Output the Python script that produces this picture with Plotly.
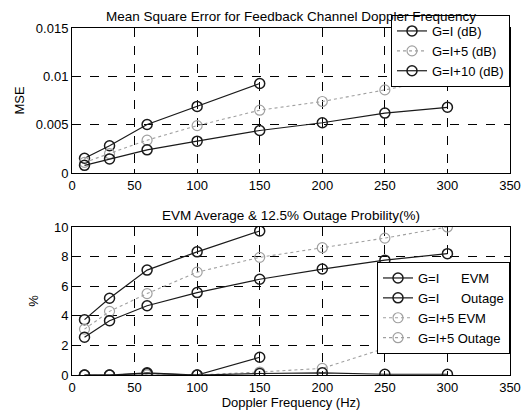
import plotly.graph_objects as go
from plotly.subplots import make_subplots

doppler = [10, 30, 60, 100, 150, 200, 250, 300]
doppler_short = [10, 30, 60, 100, 150]

mse_g0 = [0.00153, 0.00282, 0.00502, 0.00689, 0.00926]
mse_g5 = [0.0011, 0.0020, 0.0034, 0.0049, 0.0065, 0.0074, 0.0086, 0.0099]
mse_g10 = [0.0008, 0.00146, 0.0024, 0.0033, 0.0044, 0.0052, 0.0062, 0.0068]

evm_g0 = [3.74, 5.19, 7.09, 8.32, 9.73]
out_g0 = [0.0, 0.0, 0.15, 0.0, 1.2]
evm_g5 = [3.1, 4.3, 5.5, 6.95, 7.95, 8.6, 9.25, 10.0]
out_g5 = [0.0, 0.0, 0.0, 0.0, 0.2, 0.45, 1.8, 2.8]
evm_g10 = [2.55, 3.67, 4.68, 5.57, 6.47, 7.16, 7.76, 8.2]
out_g10 = [0.0, 0.0, 0.1, 0.0, 0.1, 0.15, 0.05, 0.05]

x_ticks = [0, 50, 100, 150, 200, 250, 300, 350]
mse_ticks = [0, 0.005, 0.01, 0.015]
mse_ticktext = ["0", "0.005", "0.01", "0.015"]
pct_ticks = [0, 2, 4, 6, 8, 10]

BLACK = "#1a1a1a"
GRAY = "#a0a0a0"
FONT = "Liberation Sans, Arial, sans-serif"

fig = make_subplots(rows=2, cols=1, vertical_spacing=0.1)

def solid(x, y, name, legend, show=True):
    return go.Scatter(x=x, y=y, name=name, mode="lines+markers",
                      line=dict(color=BLACK, width=1.2),
                      marker=dict(symbol="circle-open", size=10, color=BLACK, line=dict(width=1.5)),
                      legend=legend, showlegend=show)

def dotted(x, y, name, legend, show=True):
    return go.Scatter(x=x, y=y, name=name, mode="lines+markers",
                      line=dict(color=GRAY, width=1.1, dash="dot"),
                      marker=dict(symbol="circle-open", size=10, color=GRAY, line=dict(width=1.2)),
                      legend=legend, showlegend=show)

fig.add_trace(solid(doppler_short, mse_g0, "G=I (dB)", "legend"), row=1, col=1)
fig.add_trace(dotted(doppler, mse_g5, "G=I+5 (dB)", "legend"), row=1, col=1)
fig.add_trace(solid(doppler, mse_g10, "G=I+10 (dB)", "legend"), row=1, col=1)

nb = "\u00a0"
fig.add_trace(solid(doppler_short, evm_g0, "G=I" + nb * 6 + "EVM", "legend2"), row=2, col=1)
fig.add_trace(solid(doppler_short, out_g0, "G=I" + nb * 6 + "Outage", "legend2"), row=2, col=1)
fig.add_trace(dotted(doppler, evm_g5, "G=I+5 EVM", "legend2"), row=2, col=1)
fig.add_trace(dotted(doppler, out_g5, "G=I+5 Outage", "legend2"), row=2, col=1)
fig.add_trace(solid(doppler, evm_g10, "G=I+10 EVM", "legend2", show=False), row=2, col=1)
fig.add_trace(solid(doppler, out_g10, "G=I+10 Outage", "legend2", show=False), row=2, col=1)

axis_common = dict(showline=True, mirror=True, linecolor="black", linewidth=1,
                   showgrid=True, gridcolor="black", griddash="dash", gridwidth=1,
                   ticks="inside", ticklen=4, tickcolor="black", zeroline=False,
                   automargin=False,
                   tickfont=dict(size=13, color="black", family=FONT))

fig.update_xaxes(range=[0, 350], tickvals=x_ticks, **axis_common)
fig.update_yaxes(**axis_common)
fig.update_layout(
    xaxis=dict(domain=[0, 1]),
    yaxis=dict(domain=[0.582, 1], range=[0, 0.015], tickvals=mse_ticks, ticktext=mse_ticktext,
               title=dict(text="MSE", font=dict(size=13, family=FONT, color="black"), standoff=8)),
    xaxis2=dict(domain=[0, 1],
                title=dict(text="Doppler Frequency (Hz)", font=dict(size=13, family=FONT, color="black"), standoff=2)),
    yaxis2=dict(domain=[0, 0.4265], range=[0, 10], tickvals=pct_ticks,
                title=dict(text="%", font=dict(size=13, family=FONT, color="black"), standoff=12)),
)

fig.update_layout(
    width=531, height=416,
    margin=dict(l=72, r=21, t=28, b=41),
    paper_bgcolor="white", plot_bgcolor="white",
    font=dict(family=FONT, size=13, color="black"),
    legend=dict(x=1, y=1.0375, xanchor="right", yanchor="top",
                bgcolor="white", bordercolor="black", borderwidth=1,
                font=dict(size=13, family=FONT, color="black"),
                tracegroupgap=0),
    legend2=dict(x=1, y=0.3256, xanchor="right", yanchor="top",
                 bgcolor="white", bordercolor="black", borderwidth=1,
                 font=dict(size=13, family=FONT, color="black"),
                 tracegroupgap=0),
    annotations=[
        dict(text="Mean Square Error for Feedback Channel Doppler Frequency", xref="paper", yref="paper",
             x=0.5, y=1.0, yshift=2, xanchor="center", yanchor="bottom", showarrow=False,
             font=dict(size=13.5, family=FONT, color="black")),
        dict(text="EVM Average & 12.5% Outage Probility(%)", xref="paper", yref="paper",
             x=0.5, y=0.4265, yshift=2, xanchor="center", yanchor="bottom", showarrow=False,
             font=dict(size=13.5, family=FONT, color="black")),
    ],
)

fig.write_html("out.html", config={"displayModeBar": False},
               post_script="document.body.style.margin='0';document.body.style.overflow='hidden';")
